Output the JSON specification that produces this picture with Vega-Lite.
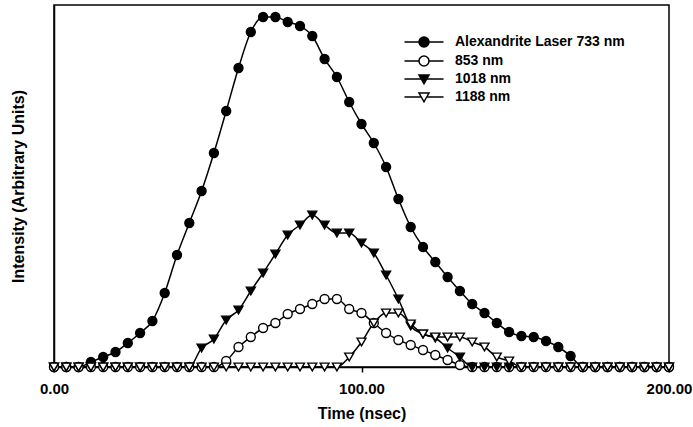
{
  "$schema": "https://vega.github.io/schema/vega-lite/v6.json",
  "width": 615,
  "height": 362,
  "autosize": "none",
  "padding": {"left": 54, "top": 5, "right": 24, "bottom": 60},
  "background": "white",
  "config": {
    "view": {"stroke": "black", "strokeWidth": 1.5},
    "font": "Liberation Sans"
  },
  "data": {
    "values": [
      {"t": 0, "nm733": 0, "nm853": 0, "nm1018": 0, "nm1188": 0},
      {"t": 4, "nm733": 0, "nm853": 0, "nm1018": 0, "nm1188": 0},
      {"t": 8, "nm733": 0, "nm853": 0, "nm1018": 0, "nm1188": 0},
      {"t": 12, "nm733": 5, "nm853": 0, "nm1018": 0, "nm1188": 0},
      {"t": 16, "nm733": 10, "nm853": 0, "nm1018": 0, "nm1188": 0},
      {"t": 20, "nm733": 15, "nm853": 0, "nm1018": 0, "nm1188": 0},
      {"t": 24, "nm733": 24, "nm853": 0, "nm1018": 0, "nm1188": 0},
      {"t": 28, "nm733": 34, "nm853": 0, "nm1018": 0, "nm1188": 0},
      {"t": 32, "nm733": 46, "nm853": 0, "nm1018": 0, "nm1188": 0},
      {"t": 36, "nm733": 74, "nm853": 0, "nm1018": 0, "nm1188": 0},
      {"t": 40, "nm733": 112, "nm853": 0, "nm1018": 0, "nm1188": 0},
      {"t": 44, "nm733": 144, "nm853": 0, "nm1018": 0, "nm1188": 0},
      {"t": 48, "nm733": 176, "nm853": 0, "nm1018": 19, "nm1188": 0},
      {"t": 52, "nm733": 214, "nm853": 0, "nm1018": 28, "nm1188": 0},
      {"t": 56, "nm733": 256, "nm853": 6, "nm1018": 47, "nm1188": 0},
      {"t": 60, "nm733": 299, "nm853": 20, "nm1018": 57, "nm1188": 0},
      {"t": 64, "nm733": 335, "nm853": 30, "nm1018": 76, "nm1188": 0},
      {"t": 68, "nm733": 350, "nm853": 39, "nm1018": 94, "nm1188": 0},
      {"t": 72, "nm733": 350, "nm853": 44, "nm1018": 113, "nm1188": 0},
      {"t": 76, "nm733": 345, "nm853": 53, "nm1018": 132, "nm1188": 0},
      {"t": 80, "nm733": 341, "nm853": 58, "nm1018": 142, "nm1188": 0},
      {"t": 84, "nm733": 331, "nm853": 63, "nm1018": 152, "nm1188": 0},
      {"t": 88, "nm733": 308, "nm853": 68, "nm1018": 142, "nm1188": 0},
      {"t": 92, "nm733": 290, "nm853": 68, "nm1018": 134, "nm1188": 0},
      {"t": 96, "nm733": 265, "nm853": 58, "nm1018": 134, "nm1188": 10},
      {"t": 100, "nm733": 243, "nm853": 54, "nm1018": 124, "nm1188": 25},
      {"t": 104, "nm733": 224, "nm853": 44, "nm1018": 114, "nm1188": 44},
      {"t": 108, "nm733": 200, "nm853": 34, "nm1018": 92, "nm1188": 54},
      {"t": 112, "nm733": 168, "nm853": 27, "nm1018": 68, "nm1188": 54},
      {"t": 116, "nm733": 140, "nm853": 22, "nm1018": 41, "nm1188": 43},
      {"t": 120, "nm733": 120, "nm853": 17, "nm1018": 33, "nm1188": 33},
      {"t": 124, "nm733": 105, "nm853": 12, "nm1018": 29, "nm1188": 30},
      {"t": 128, "nm733": 90, "nm853": 7, "nm1018": 19, "nm1188": 30},
      {"t": 132, "nm733": 76, "nm853": 2, "nm1018": 10, "nm1188": 30},
      {"t": 136, "nm733": 63, "nm853": 0, "nm1018": 0, "nm1188": 25},
      {"t": 140, "nm733": 54, "nm853": 0, "nm1018": 0, "nm1188": 20},
      {"t": 144, "nm733": 44, "nm853": 0, "nm1018": 0, "nm1188": 10},
      {"t": 148, "nm733": 35, "nm853": 0, "nm1018": 0, "nm1188": 6},
      {"t": 152, "nm733": 31, "nm853": 0, "nm1018": 0, "nm1188": 0},
      {"t": 156, "nm733": 30, "nm853": 0, "nm1018": 0, "nm1188": 0},
      {"t": 160, "nm733": 26, "nm853": 0, "nm1018": 0, "nm1188": 0},
      {"t": 164, "nm733": 20, "nm853": 0, "nm1018": 0, "nm1188": 0},
      {"t": 168, "nm733": 11, "nm853": 0, "nm1018": 0, "nm1188": 0},
      {"t": 172, "nm733": 0, "nm853": 0, "nm1018": 0, "nm1188": 0},
      {"t": 176, "nm733": 0, "nm853": 0, "nm1018": 0, "nm1188": 0},
      {"t": 180, "nm733": 0, "nm853": 0, "nm1018": 0, "nm1188": 0},
      {"t": 184, "nm733": 0, "nm853": 0, "nm1018": 0, "nm1188": 0},
      {"t": 188, "nm733": 0, "nm853": 0, "nm1018": 0, "nm1188": 0},
      {"t": 192, "nm733": 0, "nm853": 0, "nm1018": 0, "nm1188": 0},
      {"t": 196, "nm733": 0, "nm853": 0, "nm1018": 0, "nm1188": 0},
      {"t": 200, "nm733": 0, "nm853": 0, "nm1018": 0, "nm1188": 0}
    ]
  },
  "transform": [
    {"fold": ["nm733", "nm853", "nm1018", "nm1188"], "as": ["series", "v"]}
  ],
  "encoding": {
    "x": {
      "field": "t",
      "type": "quantitative",
      "scale": {"domain": [0, 200], "nice": false, "zero": false},
      "axis": {
        "title": "Time (nsec)",
        "values": [0, 100, 200],
        "format": ".2f",
        "labelFont": "Liberation Sans",
        "labelFontSize": 15,
        "labelFontWeight": "bold",
        "labelColor": "black",
        "labelFlush": false,
        "labelPadding": 9,
        "titleFont": "Liberation Sans",
        "titleFontSize": 16,
        "titleFontWeight": "bold",
        "titleColor": "black",
        "titlePadding": 9,
        "tickSize": 5,
        "tickColor": "black",
        "tickWidth": 1.5,
        "domainColor": "black",
        "domainWidth": 1.5,
        "grid": false
      }
    },
    "y": {
      "field": "v",
      "type": "quantitative",
      "scale": {"domain": [0, 362], "nice": false},
      "axis": {
        "title": "Intensity (Arbitrary Units)",
        "labels": false,
        "ticks": false,
        "grid": false,
        "domainColor": "black",
        "domainWidth": 1.5,
        "titleFont": "Liberation Sans",
        "titleFontSize": 16,
        "titleFontWeight": "bold",
        "titleColor": "black",
        "titlePadding": 28
      }
    }
  },
  "layer": [
    {
      "mark": {"type": "line", "color": "black", "strokeWidth": 1.5, "interpolate": "monotone"},
      "encoding": {"detail": {"field": "series"}}
    },
    {
      "mark": {"type": "point", "stroke": "black", "strokeWidth": 1.4, "size": 80, "opacity": 1},
      "encoding": {
        "shape": {
          "field": "series",
          "type": "nominal",
          "scale": {"domain": ["nm733", "nm853", "nm1018", "nm1188"], "range": ["circle", "circle", "triangle-down", "triangle-down"]},
          "legend": null
        },
        "fill": {
          "field": "series",
          "type": "nominal",
          "scale": {"domain": ["nm733", "nm853", "nm1018", "nm1188"], "range": ["black", "white", "black", "white"]},
          "legend": null
        }
      }
    },
    {
      "mark": {"type": "point", "stroke": "black", "opacity": 0},
      "encoding": {
        "shape": {
          "field": "series",
          "type": "nominal",
          "scale": {
            "domain": ["nm733", "nm853", "nm1018", "nm1188"],
            "range": [
              "M-1,0A1,1,0,1,0,1,0A1,1,0,1,0,-1,0Z M-3.9,0H-1 M1,0H3.9",
              "M-1,0A1,1,0,1,0,1,0A1,1,0,1,0,-1,0Z M-3.9,0H-1 M1,0H3.9",
              "M-1,-0.8L1,-0.8L0,0.95Z M-3.9,0H-0.55 M0.55,0H3.9",
              "M-1,-0.8L1,-0.8L0,0.95Z M-3.9,0H-0.55 M0.55,0H3.9"
            ]
          },
          "legend": {
            "title": null,
            "orient": "none",
            "legendX": 363,
            "legendY": 30,
            "padding": 0,
            "symbolSize": 100,
            "symbolStrokeWidth": 1.5,
            "symbolStrokeColor": "black",
            "symbolOpacity": 1,
            "labelOffset": 24,
            "rowPadding": 3,
            "labelLimit": 400,
            "labelFont": "Liberation Sans",
            "labelFontSize": 14,
            "labelFontWeight": "bold",
            "labelColor": "black",
            "labelExpr": "datum.label == 'nm733' ? 'Alexandrite Laser 733 nm' : datum.label == 'nm853' ? '853 nm' : datum.label == 'nm1018' ? '1018 nm' : '1188 nm'",
            "encode": {
              "symbols": {
                "update": {
                  "stroke": {"value": "black"},
                  "strokeWidth": {"value": 1.5},
                  "opacity": {"value": 1}
                }
              }
            }
          }
        },
        "fill": {
          "field": "series",
          "type": "nominal",
          "scale": {"domain": ["nm733", "nm853", "nm1018", "nm1188"], "range": ["black", "white", "black", "white"]},
          "legend": {
            "title": null,
            "orient": "none",
            "legendX": 363,
            "legendY": 30,
            "padding": 0,
            "symbolSize": 100,
            "symbolStrokeWidth": 1.5,
            "symbolStrokeColor": "black",
            "symbolOpacity": 1,
            "labelOffset": 24,
            "rowPadding": 3,
            "labelLimit": 400,
            "labelFont": "Liberation Sans",
            "labelFontSize": 14,
            "labelFontWeight": "bold",
            "labelColor": "black",
            "labelExpr": "datum.label == 'nm733' ? 'Alexandrite Laser 733 nm' : datum.label == 'nm853' ? '853 nm' : datum.label == 'nm1018' ? '1018 nm' : '1188 nm'",
            "encode": {
              "symbols": {
                "update": {
                  "stroke": {"value": "black"},
                  "strokeWidth": {"value": 1.5},
                  "opacity": {"value": 1}
                }
              }
            }
          }
        }
      }
    }
  ],
  "resolve": {"scale": {"shape": "independent", "fill": "independent"}}
}
